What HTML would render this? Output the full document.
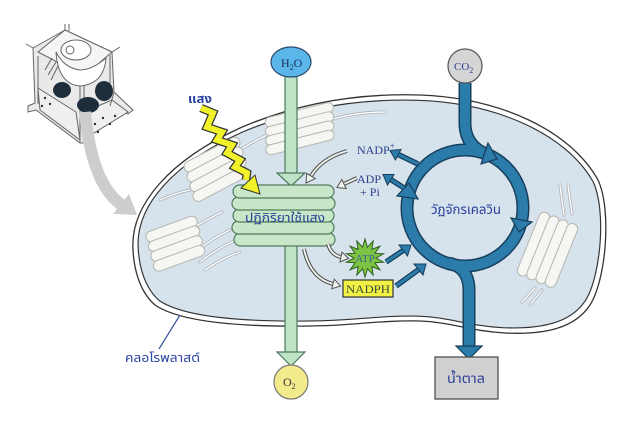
<!DOCTYPE html>
<html><head><meta charset="utf-8"><style>
html,body{margin:0;padding:0;background:#fff;}
svg{display:block;}
.th{font-family:"Liberation Sans","DejaVu Sans","Noto Sans Thai","Loma","Garuda",sans-serif;}
.se{font-family:"Liberation Serif","DejaVu Serif",serif;}
</style></head><body>
<svg width="641" height="445" viewBox="0 0 641 445" xmlns="http://www.w3.org/2000/svg">
<rect width="641" height="445" fill="#fff"/>

<!-- cell sketch -->
<g stroke="#666" stroke-width="1" fill="#e9e9e9">
  <polygon points="33,48 65,30 112,52 114,92 133,110 128,114 110,106 84,143 80,143 36,110 28,112 28,106 35,103"/>
  <polygon points="65,30 112,52 84,76 38,52" fill="#f5f5f5"/>
  <polygon points="38,88 76,112 80,140 40,110" fill="#efefef"/>
  <polygon points="84,112 112,100 128,112 86,138" fill="#efefef"/>
  <line x1="65" y1="24" x2="65" y2="31"/>
  <line x1="69" y1="24" x2="69" y2="31"/>
  <line x1="112" y1="52" x2="120" y2="47"/>
  <line x1="33" y1="48" x2="26" y2="44"/>
  <line x1="80" y1="76" x2="80" y2="143"/>
  <line x1="84" y1="76" x2="84" y2="143"/>
  <path d="M56,52 Q58,84 80,86 Q104,84 106,58 Q92,70 80,70 Q64,68 56,52 Z" fill="#fff"/>
  <ellipse cx="76" cy="50" rx="15" ry="10" fill="#fff"/>
  <circle cx="70" cy="50" r="4" fill="none"/>
  <path d="M45,70 L52,58 M48,75 L56,62 M51,80 L58,66" fill="none"/>
  <path d="M38,104 L38,56 M110,55 L110,95" fill="none"/>
  <path d="M110,106 L114,92" fill="none"/>
</g>
<g fill="#1f2e3c">
  <ellipse cx="62" cy="90" rx="9" ry="8"/>
  <ellipse cx="88" cy="105" rx="11" ry="8"/>
  <ellipse cx="104" cy="91" rx="9" ry="10"/>
</g>
<g fill="#333">
  <circle cx="45" cy="98" r="1.2"/><circle cx="50" cy="104" r="1.2"/><circle cx="42" cy="106" r="1.2"/>
  <circle cx="95" cy="124" r="1.2"/><circle cx="103" cy="118" r="1.2"/><circle cx="110" cy="124" r="1.2"/>
  <circle cx="98" cy="132" r="1.2"/><circle cx="115" cy="116" r="1.2"/><circle cx="88" cy="130" r="1.2"/>
</g>

<!-- grey big arrow -->
<path d="M85,112 Q92,185 122,205" fill="none" stroke="#cdcdcd" stroke-width="12"/>
<polygon points="137,215 113,214 129,194" fill="#cdcdcd"/>

<!-- chloroplast -->
<path d="M133,250 C130,205 170,160 240,128 C300,102 360,93 420,95 C500,98 570,130 598,180 C612,210 606,280 590,305 C575,328 545,335 505,333 C470,331 450,322 420,321 C380,320 350,326 310,326 C240,327 180,322 155,305 C140,292 134,270 133,250 Z" fill="#fff" stroke="#333" stroke-width="1.3"/>
<path transform="translate(370,214) scale(0.978,0.955) translate(-370,-214)" d="M133,250 C130,205 170,160 240,128 C300,102 360,93 420,95 C500,98 570,130 598,180 C612,210 606,280 590,305 C575,328 545,335 505,333 C470,331 450,322 420,321 C380,320 350,326 310,326 C240,327 180,322 155,305 C140,292 134,270 133,250 Z" fill="#d6e2ec" stroke="#333" stroke-width="1.2"/>

<!-- lamellae -->
<g fill="none" stroke-linecap="round">
  <g stroke="#a9b2ba" stroke-width="3">
    <path d="M240,150 Q255,140 272,133"/>
    <path d="M330,120 Q355,112 386,112"/>
    <path d="M160,200 Q175,193 190,190"/>
    <path d="M196,252 Q212,238 230,230"/>
    <path d="M200,262 Q218,248 236,240"/>
    <path d="M205,270 Q222,258 240,252"/>
    <path d="M196,226 Q210,218 222,212"/>
    <path d="M560,185 L564,215"/><path d="M568,185 L572,214"/>
    <path d="M535,288 L522,302"/><path d="M542,290 L530,305"/>
  </g>
  <g stroke="#fff" stroke-width="1.4">
    <path d="M240,150 Q255,140 272,133"/>
    <path d="M330,120 Q355,112 386,112"/>
    <path d="M160,200 Q175,193 190,190"/>
    <path d="M196,252 Q212,238 230,230"/>
    <path d="M200,262 Q218,248 236,240"/>
    <path d="M205,270 Q222,258 240,252"/>
    <path d="M196,226 Q210,218 222,212"/>
    <path d="M560,185 L564,215"/><path d="M568,185 L572,214"/>
    <path d="M535,288 L522,302"/><path d="M542,290 L530,305"/>
  </g>
</g>

<!-- grana -->
<g fill="#f6f6f2" stroke="#b5b5b0" stroke-width="1">
  <g transform="translate(218,168) rotate(-28)">
    <rect x="-30" y="-20" width="62" height="11" rx="5.5"/>
    <rect x="-32" y="-10" width="62" height="11" rx="5.5"/>
    <rect x="-34" y="0" width="62" height="11" rx="5.5"/>
    <rect x="-36" y="10" width="62" height="11" rx="5.5"/>
  </g>
  <g transform="translate(300,126) rotate(-14)">
    <rect x="-33" y="-16" width="70" height="10" rx="5"/>
    <rect x="-35" y="-7" width="70" height="10" rx="5"/>
    <rect x="-37" y="2" width="70" height="10" rx="5"/>
    <rect x="-39" y="11" width="70" height="10" rx="5"/>
  </g>
  <g transform="translate(176,244) rotate(-20)">
    <rect x="-26" y="-21" width="54" height="11" rx="5.5"/>
    <rect x="-27" y="-11" width="54" height="11" rx="5.5"/>
    <rect x="-28" y="-1" width="54" height="11" rx="5.5"/>
    <rect x="-29" y="9" width="54" height="11" rx="5.5"/>
  </g>
  <g transform="translate(548,250) rotate(-68)">
    <rect x="-34" y="-21" width="68" height="11" rx="5.5"/>
    <rect x="-34" y="-11" width="68" height="11" rx="5.5"/>
    <rect x="-34" y="-1" width="68" height="11" rx="5.5"/>
    <rect x="-34" y="9" width="68" height="11" rx="5.5"/>
  </g>
</g>

<!-- green arrows (water / oxygen) -->
<g fill="#bfe3c6" stroke="#4c7a5c" stroke-width="1.2">
  <rect x="285" y="76" width="12" height="98"/>
  <polygon points="277,173 305,173 291,186"/>
  <rect x="285" y="244" width="12" height="109"/>
  <polygon points="277,352 305,352 291,366"/>
</g>

<!-- H2O -->
<ellipse cx="291" cy="62" rx="20" ry="15" fill="#5bb6ea" stroke="#2a4a6a" stroke-width="1.2"/>
<text x="281" y="67" class="se" font-size="12" fill="#1e2f5a">H<tspan font-size="8" dy="3">2</tspan><tspan dy="-3">O</tspan></text>

<!-- O2 -->
<circle cx="291" cy="382" r="17" fill="#f3ea8b" stroke="#777" stroke-width="1.2"/>
<text x="283" y="386" class="se" font-size="12" fill="#333">O<tspan font-size="8" dy="3">2</tspan></text>

<!-- thylakoid stack -->
<g fill="#c7e7c8" stroke="#4f7d5c" stroke-width="1.2">
  <rect x="234" y="233" width="101" height="13" rx="6.5"/>
  <rect x="232" y="221" width="102" height="13" rx="6.5"/>
  <rect x="233" y="209" width="101" height="13" rx="6.5"/>
  <rect x="232" y="197" width="103" height="13" rx="6.5"/>
  <rect x="233" y="185" width="101" height="13" rx="6.5"/>
</g>
<text x="245" y="222" class="th" font-size="12" fill="#2a3f9a" textLength="80" lengthAdjust="spacingAndGlyphs">ปฏิกิริยาใช้แสง</text>

<!-- lightning -->
<polyline points="201,108 213,113 207,127 222,132 217,140 232,145 227,153 240,160 235,167 247,173 246,180" fill="none" stroke="#333" stroke-width="8.5" stroke-linejoin="miter"/>
<polyline points="201,108 213,113 207,127 222,132 217,140 232,145 227,153 240,160 235,167 247,173 246,180" fill="none" stroke="#f2f22a" stroke-width="6" stroke-linejoin="miter"/>
<polygon points="260,194 241,188 255,175" fill="#f2f22a" stroke="#333" stroke-width="1"/>
<text x="188" y="103" class="th" font-size="12" font-weight="bold" fill="#2b44a0" textLength="24" lengthAdjust="spacingAndGlyphs">แสง</text>

<!-- hollow arrows -->
<g fill="none" stroke-linecap="butt">
  <g stroke="#555" stroke-width="4">
    <path d="M347,151 Q322,158 311,176"/>
    <path d="M357,178 L344,184"/>
    <path d="M328,244 Q331,255 341,257"/>
    <path d="M304,249 Q310,278 333,284"/>
  </g>
  <g stroke="#eef3ee" stroke-width="1.8">
    <path d="M347,151 Q322,158 311,176"/>
    <path d="M357,178 L344,184"/>
    <path d="M328,244 Q331,255 341,257"/>
    <path d="M304,249 Q310,278 333,284"/>
  </g>
</g>
<g fill="#eef3ee" stroke="#555" stroke-width="1">
  <polygon points="306,183 315.3,178.6 306.7,173.4"/>
  <polygon points="337,187.5 346.2,188.5 341.8,179.5"/>
  <polygon points="348.5,258.5 340,261.9 342,252.1"/>
  <polygon points="340.5,286 331.7,288.8 334.3,279.2"/>
</g>

<!-- ATP star -->
<polygon points="365,239 367.4,247.3 373.2,240.9 371.9,249.4 379.9,246.2 374.9,253.2 383.5,253.8 376,258 383.5,262.2 374.9,262.8 379.9,269.8 371.9,266.6 373.2,275.1 367.4,268.7 365,277 362.6,268.7 356.8,275.1 358.1,266.6 350.1,269.8 355.1,262.8 346.5,262.2 354,258 346.5,253.8 355.1,253.2 350.1,246.2 358.1,249.4 356.8,240.9 362.6,247.3" fill="#7ec444" stroke="#2e5e1e" stroke-width="1"/>
<text x="365" y="262" class="se" font-size="11" fill="#3b5f8a" text-anchor="middle">ATP</text>

<!-- NADPH -->
<rect x="343" y="280" width="50" height="17" fill="#f2f244" stroke="#333" stroke-width="1.2"/>
<text x="368" y="293" class="se" font-size="12" fill="#3a4a3a" text-anchor="middle" textLength="44" lengthAdjust="spacingAndGlyphs">NADPH</text>

<!-- NADP+, ADP + Pi -->
<text x="357" y="154" class="se" font-size="12" fill="#2e3f8e">NADP<tspan font-size="9" dy="-5">+</tspan></text>
<text x="357" y="183" class="se" font-size="12" fill="#2e3f8e">ADP</text>
<text x="360" y="196" class="se" font-size="12" fill="#2e3f8e">+ Pi</text>

<!-- Calvin cycle -->
<g fill="none">
  <circle cx="465" cy="208" r="58" stroke="#173f5c" stroke-width="13"/>
  <path d="M465,83 L465,125 Q466,146 486,154" stroke="#173f5c" stroke-width="13"/>
  <path d="M449,263 Q469,268 469,290 L469,348" stroke="#173f5c" stroke-width="13"/>
  <circle cx="465" cy="208" r="58" stroke="#2b7cab" stroke-width="10"/>
  <path d="M465,83 L465,125 Q466,146 486,154" stroke="#2b7cab" stroke-width="10"/>
  <path d="M449,263 Q469,268 469,290 L469,348" stroke="#2b7cab" stroke-width="10"/>
</g>
<g fill="#2b7cab" stroke="#173f5c" stroke-width="1.2">
  <polygon points="497,159 481,164 488,143"/>
  <polygon points="409,183 397,196 418,199"/>
  <polygon points="519,232 511,218 532,222"/>
  <polygon points="456,346 482,346 469,359"/>
</g>

<!-- small blue arrows -->
<g fill="none" stroke-linecap="butt">
  <g stroke="#173f5c" stroke-width="5.5">
    <path d="M418,164 L398.2,154.5"/>
    <path d="M404,188 L390.7,179.4"/>
    <path d="M386,262 L403.3,250.4"/>
    <path d="M396,286 L418.5,269.7"/>
  </g>
  <g stroke="#2b7cab" stroke-width="3">
    <path d="M418,164 L398.2,154.5"/>
    <path d="M404,188 L390.7,179.4"/>
    <path d="M386,262 L403.3,250.4"/>
    <path d="M396,286 L418.5,269.7"/>
  </g>
</g>
<g fill="#2b7cab" stroke="#173f5c" stroke-width="1">
  <polygon points="390,150.5 401,149.5 395.5,160"/>
  <polygon points="383,174.5 394,174.5 387.5,185"/>
  <polygon points="411,245 407.5,256 399,245"/>
  <polygon points="426,264 423,275 414,264"/>
</g>

<text x="466" y="214" class="th" font-size="13" fill="#2a3f9a" text-anchor="middle" textLength="70" lengthAdjust="spacingAndGlyphs">วัฏจักรเคลวิน</text>

<!-- CO2 -->
<circle cx="465" cy="66" r="17" fill="#d5d5d5" stroke="#555" stroke-width="1.2"/>
<text x="454" y="70" class="se" font-size="11" fill="#2e3f8e">CO<tspan font-size="8" dy="3">2</tspan></text>

<!-- sugar box -->
<rect x="435" y="357" width="63" height="42" fill="#d0d0d0" stroke="#444" stroke-width="1.2"/>
<text x="466" y="383" class="th" font-size="13" fill="#2a3f9a" text-anchor="middle" textLength="38" lengthAdjust="spacingAndGlyphs">น้ำตาล</text>

<!-- chloroplast label -->
<line x1="180" y1="315" x2="159" y2="349" stroke="#3a55a0" stroke-width="1.2"/>
<text x="125" y="362" class="th" font-size="12" fill="#2b44a0" textLength="75" lengthAdjust="spacingAndGlyphs">คลอโรพลาสต์</text>
</svg>
</body></html>
